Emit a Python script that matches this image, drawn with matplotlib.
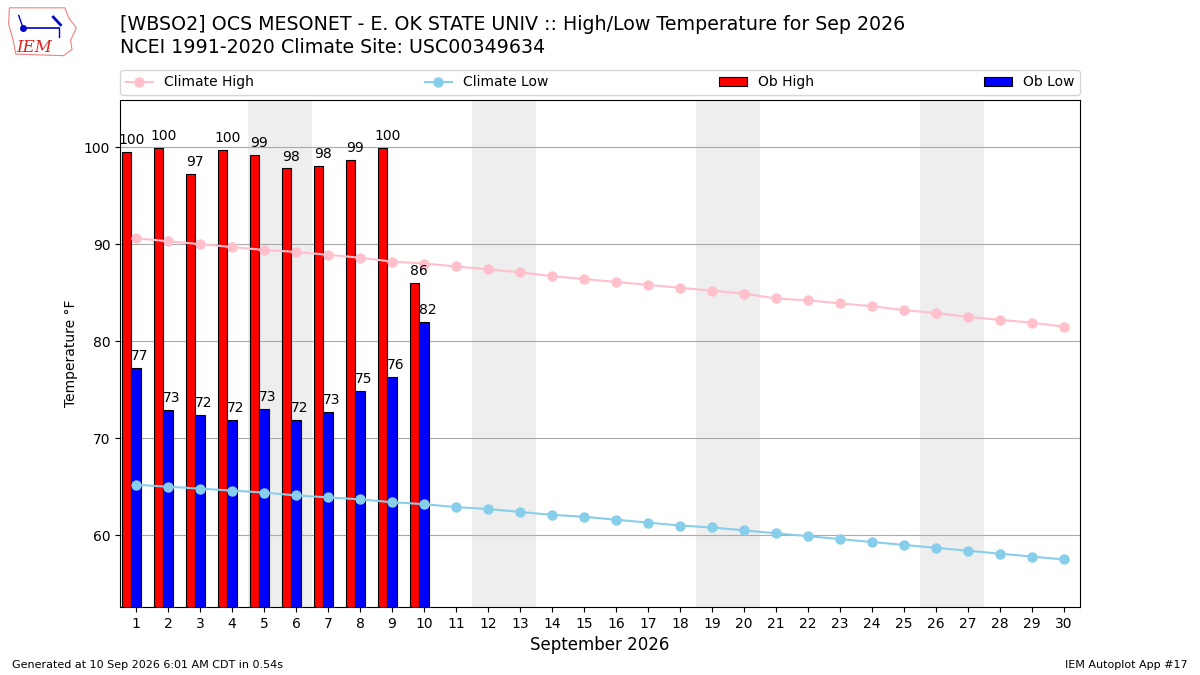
import numpy as np
import matplotlib
matplotlib.use('Agg')
import matplotlib.pyplot as plt
from matplotlib.patches import Polygon


days = np.arange(1, 31)

ob_high = [99.5, 99.9, 97.2, 99.7, 99.2, 97.8, 98.1, 98.7, 99.9, 86.0]
ob_low = [77.2, 72.9, 72.4, 71.9, 73.0, 71.9, 72.7, 74.9, 76.3, 82.0]

climate_high = [90.6, 90.3, 90.0, 89.7, 89.4, 89.2, 88.9, 88.6, 88.2, 88.0,
                87.7, 87.4, 87.1, 86.7, 86.4, 86.1, 85.8, 85.5, 85.2, 84.9,
                84.4, 84.2, 83.9, 83.6, 83.2, 82.9, 82.5, 82.2, 81.9, 81.5]
climate_low = [65.2, 65.0, 64.8, 64.6, 64.4, 64.1, 63.9, 63.7, 63.4, 63.2,
               62.9, 62.7, 62.4, 62.1, 61.9, 61.6, 61.3, 61.0, 60.8, 60.5,
               60.2, 59.9, 59.6, 59.3, 59.0, 58.7, 58.4, 58.1, 57.8, 57.5]

weekends = [5, 12, 19, 26]

title = ("[WBSO2] OCS MESONET - E. OK STATE UNIV :: High/Low Temperature for Sep 2026\n"
         "NCEI 1991-2020 Climate Site: USC00349634")

################################################################################

fig = plt.figure(figsize=(12, 6.75), dpi=100)
ax = fig.add_axes([0.1, 0.1007, 0.8, 0.7511])

for d in weekends:
    ax.axvspan(d - 0.5, d + 1.5, color='#EEEEEE', zorder=0, lw=0)

ax.plot(days, climate_high, color='pink', marker='o', lw=1.5, ms=6.5,
        label='Climate High', zorder=3)
ax.plot(days, climate_low, color='skyblue', marker='o', lw=1.5, ms=6.5,
        label='Climate Low', zorder=3)

obdays = days[:len(ob_high)]
ax.bar(obdays - 0.3, ob_high, width=0.3, color='r', edgecolor='k', lw=0.8,
       label='Ob High', zorder=2)
ax.bar(obdays, ob_low, width=0.3, color='b', edgecolor='k', lw=0.8,
       label='Ob Low', zorder=2)
for x, h, l in zip(obdays, ob_high, ob_low):
    ax.text(x - 0.15, h + 0.5, '%.0f' % h, ha='center', va='bottom', fontsize=10, zorder=4)
    ax.text(x - 0.15, l + 0.5, '%.0f' % l, ha='left', va='bottom', fontsize=10, zorder=4)

ax.set_xlim(0.5, 30.5)
ax.set_ylim(52.6, 104.85)
ax.set_xticks(days)
ax.set_yticks([60, 70, 80, 90, 100])
ax.tick_params(labelsize=10)
ax.grid(axis='y', color='#aaaaaa', lw=0.8, zorder=1)
ax.set_axisbelow(True)
ax.set_ylabel('Temperature \u00b0F', fontsize=10)
ax.set_xlabel('September 2026', fontsize=12)

ax.legend(loc='lower left', bbox_to_anchor=(0, 1.01, 1, 0.05), ncol=4,
          mode='expand', borderaxespad=0, fontsize=10)

fig.text(0.1, 0.978, title, fontsize=13.7, va='top', ha='left', linespacing=1.3)
fig.text(0.01, 0.01, 'Generated at 10 Sep 2026 6:01 AM CDT in 0.54s', fontsize=8)
fig.text(0.99, 0.01, 'IEM Autoplot App #17', fontsize=8, ha='right')

# rough IEM logo
lax = fig.add_axes([0.006, 0.913, 0.060, 0.080])
lax.axis('off')
lax.set_xlim(0, 10)
lax.set_ylim(0, 7)
outline = Polygon([(0.3, 6.6), (8.0, 6.6), (8.6, 5.2), (9.6, 4.0), (8.8, 2.4),
                   (9.0, 1.2), (7.8, 0.4), (1.2, 0.6), (0.8, 2.5), (0.2, 4.5)],
                  closed=True, fill=False, edgecolor='#f08080', lw=0.8)
lax.add_patch(outline)
lax.plot([2.2, 7.2], [4.0, 4.0], color='#0000cc', lw=1.2)
lax.plot([2.2], [4.0], 'o', color='#0000cc', ms=4)
lax.plot([1.6, 2.2], [5.6, 4.0], color='#0000cc', lw=1)
lax.plot([6.4, 7.4], [5.4, 4.4], color='#0000cc', lw=2)
lax.plot([7.2, 7.2], [4.0, 2.8], color='#0000cc', lw=1)
lax.text(1.2, 0.9, 'IEM', color='#dd2222', fontsize=12, family='serif', style='italic')

fig.savefig('out.png', dpi=100)
